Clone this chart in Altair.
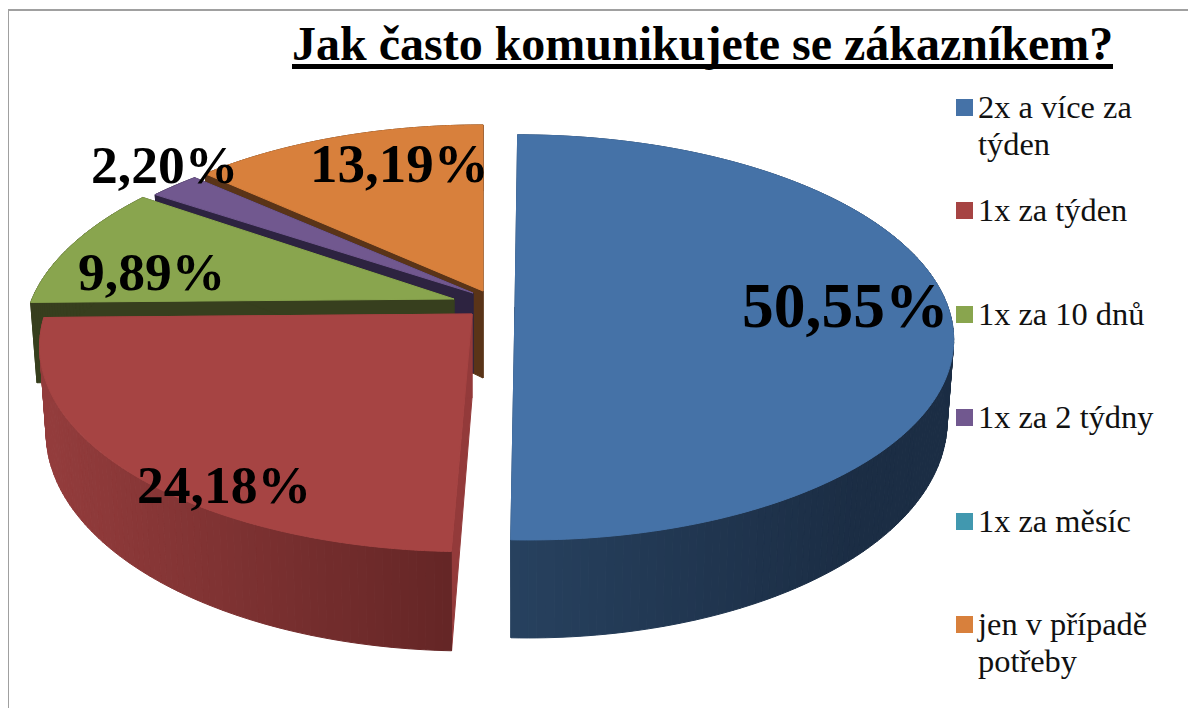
import numpy as np
import pandas as pd
import altair as alt

TITLE = "Jak často komunikujete se zákazníkem?"
CATEGORIES = ["2x a více za\ntýden", "1x za týden", "1x za 10 dnů", "1x za 2 týdny", "1x za měsíc", "jen v případě\npotřeby"]
SHARES = [50.55, 24.18, 9.89, 2.20, 0.0, 13.19]
COLORS = ["#4572A7", "#A64443", "#89A54E", "#71588F", "#4198AF", "#D8803C"]
WALLS = ["#1b2d44", "#652626", "#373f1e", "#2d2340", "#1a3d46", "#5a3418"]
FACES = ["#26415f", "#933a3a", "#373f1e", "#2d2340", "#1a3d46", "#5a3418"]

# layout (page pixels): ellipse centre x, y, radius x, radius y, skew, depth, drawn apex x
K = 0.15
RY2 = 215
GEOM = {
    0: (522, 307, 426, 198, -5, 78, 515),
    1: (472, 314, 427, 202, 3, 84, 472),
    2: (454, 299, 422, 194, 17, 80, 454),
    3: (473, 293, 428, 188, 13, 80, 473),
    5: (483, 291, 415, 191, 0, 87, 483),
}
OFFSET = 8
LABEL_POS = [(742, 327, 63.5), (137, 503, 53.6), (78, 290, 53.5), (91, 183, 53.5), None, (310, 182, 55)]
LEGEND_Y = [99, 202, 306, 409, 513, 616]


def project(i, deg, bottom=False):
    ax, ay, rx, ry, s, d, _ = GEOM[i]
    t = np.radians(deg)
    X, Y = np.sin(t), np.cos(t)
    w = 1 + K * Y
    if bottom:
        return [ax + (rx * 0.985 * X + s * Y) / w - OFFSET, ay + d - RY2 * Y / w - OFFSET]
    return [ax + (rx * X + s * Y) / w - OFFSET, ay - ry * Y / w - OFFSET]


def apex(i, bottom=False):
    _, ay, _, _, _, d, px = GEOM[i]
    return [px - OFFSET, ay + (d if bottom else 0) - OFFSET]


def feature(points, fill):
    ring = [[float(a), float(b)] for a, b in points]
    ring.append(ring[0])
    return {"type": "Feature", "geometry": {"type": "Polygon", "coordinates": [ring]}, "properties": {"fill": fill}}


def mix(a, b, f):
    f = min(max(f, 0), 1)
    ca = [int(a[j:j + 2], 16) for j in (1, 3, 5)]
    cb = [int(b[j:j + 2], 16) for j in (1, 3, 5)]
    return "#" + "".join(f"{int(round(p + (q - p) * f)):02x}" for p, q in zip(ca, cb))


def wall_color(i, x):
    if i == 0:
        return mix("#27415f", "#1b2d44", (x - 503) / 350)
    if i == 1:
        return mix("#652626", "#933c3c", (442 - x) / 400)
    return WALLS[i]


starts = np.concatenate([[0], np.cumsum(SHARES)[:-1]]) / sum(SHARES) * 360
ends = np.cumsum(SHARES) / sum(SHARES) * 360
features = []
for i in [5, 3, 2, 1, 0]:
    a0, a1 = starts[i], ends[i]
    for ang in (a0, a1):
        features.append(feature([apex(i), project(i, ang), project(i, ang, True), apex(i, True)], FACES[i]))
    angles = np.linspace(a0, a1, int(max(a1 - a0, 1)) + 2)
    for u, v in zip(angles[:-1], angles[1:]):
        p = project(i, u)
        features.append(feature([p, project(i, v), project(i, v, True), project(i, u, True)], wall_color(i, p[0])))
    features.append(feature([apex(i)] + [project(i, a) for a in np.linspace(a0, a1, 200)], COLORS[i]))

pie = alt.Chart(alt.InlineData(values=features)).mark_geoshape(strokeWidth=1).encode(
    color=alt.Color("properties.fill:N", scale=None),
    stroke=alt.Stroke("properties.fill:N", scale=None),
).project(type="identity", scale=1, translate=[0, 0])

label_rows = [
    {"t": f"{v:.2f}%".replace(".", ","), "x": p[0] - OFFSET, "y": p[1] - OFFSET, "s": p[2]}
    for v, p in zip(SHARES, LABEL_POS) if p
]
labels = alt.Chart(pd.DataFrame(label_rows)).mark_text(
    font="Liberation Serif", fontWeight="bold", align="left", baseline="alphabetic", color="black"
).encode(
    x=alt.X("x:Q", scale=None, axis=None), y=alt.Y("y:Q", scale=None, axis=None),
    text="t:N", size=alt.Size("s:Q", scale=None, legend=None),
)

leg = pd.DataFrame({
    "cat": CATEGORIES, "fill": COLORS,
    "x": 956 - OFFSET, "x2": 973 - OFFSET,
    "y": [v - OFFSET for v in LEGEND_Y], "y2": [v + 17 - OFFSET for v in LEGEND_Y],
    "tx": 978 - OFFSET, "ty": [v + 19 - OFFSET for v in LEGEND_Y],
})
swatches = alt.Chart(leg).mark_rect().encode(
    x=alt.X("x:Q", scale=None, axis=None), x2="x2:Q",
    y=alt.Y("y:Q", scale=None, axis=None), y2="y2:Q",
    color=alt.Color("fill:N", scale=None),
)
leg_text = alt.Chart(leg).mark_text(
    font="Liberation Serif", fontSize=32.4, align="left", baseline="alphabetic",
    color="#111111", lineBreak="\n", lineHeight=37,
).encode(
    x=alt.X("tx:Q", scale=None, axis=None), y=alt.Y("ty:Q", scale=None, axis=None), text="cat:N",
)

title = alt.Chart(pd.DataFrame({"t": [TITLE], "x": [292 - OFFSET], "y": [60 - OFFSET]})).mark_text(
    font="Liberation Serif", fontWeight="bold", fontSize=48, align="left", baseline="alphabetic", color="black"
).encode(x=alt.X("x:Q", scale=None, axis=None), y=alt.Y("y:Q", scale=None, axis=None), text="t:N")

underline = alt.Chart(pd.DataFrame({"x": [292 - OFFSET], "x2": [1113 - OFFSET], "y": [64 - OFFSET], "y2": [69 - OFFSET]})).mark_rect(color="black").encode(
    x=alt.X("x:Q", scale=None, axis=None), x2="x2:Q",
    y=alt.Y("y:Q", scale=None, axis=None), y2="y2:Q",
)

frame = alt.Chart(pd.DataFrame({"x": [0, 0], "x2": [1180, 1], "y": [1, 1], "y2": [3, 700]})).mark_rect(color="#a0a0a0").encode(
    x=alt.X("x:Q", scale=None, axis=None), x2="x2:Q",
    y=alt.Y("y:Q", scale=None, axis=None), y2="y2:Q",
)

chart = alt.layer(frame, pie, labels, swatches, leg_text, title, underline).properties(
    width=1180, height=700, padding=0, autosize=alt.AutoSizeParams(type="none"), background="white"
).configure_view(stroke=None)

chart.save("out.html", embed_options={"renderer": "svg", "actions": False})
